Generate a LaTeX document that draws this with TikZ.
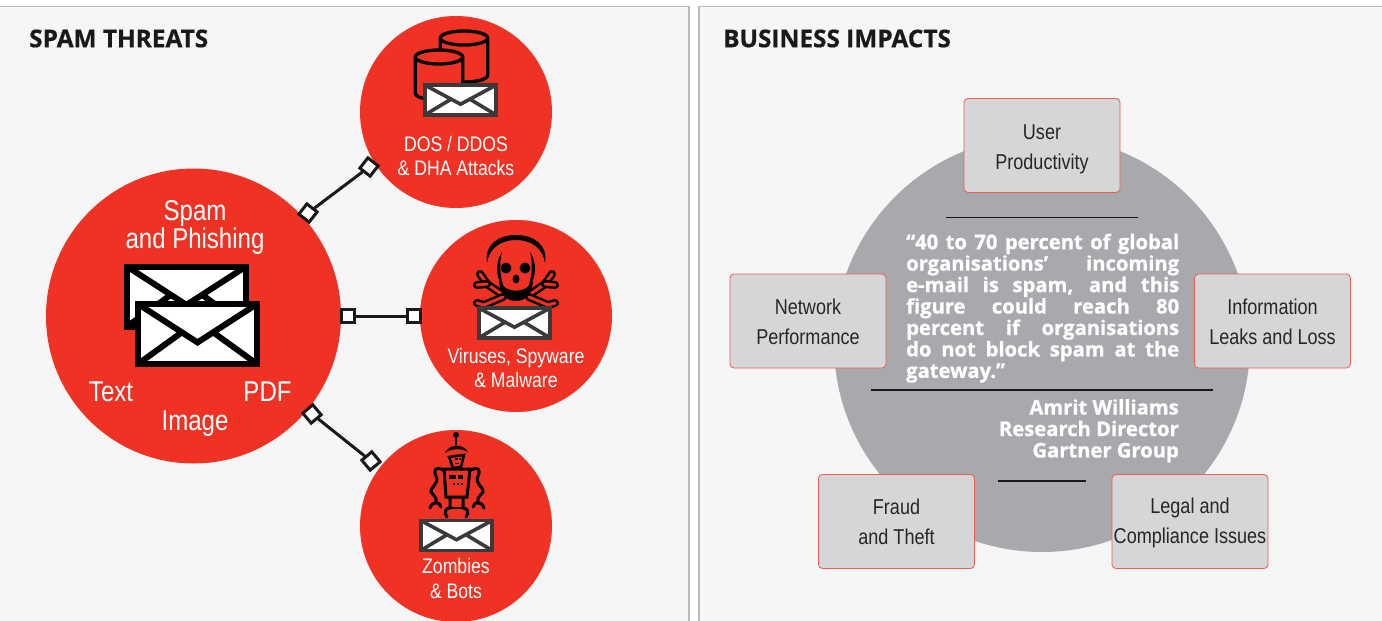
\documentclass[tikz,border=0pt]{standalone}
\usepackage{fontspec}
\setmainfont{Liberation Sans}
\newfontfamily\cond[FakeStretch=0.84]{Liberation Sans}
\newfontfamily\headf[BoldFeatures={FakeBold=0.6}]{Open Sans}
\newfontfamily\quotef[BoldFeatures={FakeBold=1}]{Open Sans}
\definecolor{redc}{HTML}{EF3224}
\definecolor{panelc}{HTML}{F6F6F6}
\definecolor{edgec}{HTML}{BABBBD}
\definecolor{disc}{HTML}{A7A9AC}
\definecolor{boxc}{HTML}{D5D6D8}
\definecolor{envc}{HTML}{3A3A3A}
\tikzset{
  x=1pt,y=-1pt,
  panel/.style={draw=edgec,line width=1.6pt,fill=panelc},
  threat/.style={circle,fill=redc,inner sep=0pt,minimum size=#1},
  lbl/.style={text=white,align=center,font=\cond\fontsize{21}{24.5}\selectfont,inner sep=0pt},
  biglbl/.style={text=white,align=center,font=\cond\fontsize{28.6}{28.5}\selectfont,inner sep=0pt},
  head/.style={anchor=west,inner sep=0pt,font=\headf\bfseries\fontsize{24.4}{28}\selectfont,text=black!90},
  impact/.style={draw=redc!80!white,line width=.8pt,fill=boxc,rounded corners=4pt,minimum width=156pt,minimum height=94pt,inner sep=0pt},
  impactlbl/.style={align=center,inner sep=0pt,text=black!85,font=\cond\fontsize{21.5}{30}\selectfont},
  port/.style={draw=black!90,line width=3pt,fill=white,minimum size=13pt,inner sep=0pt},
  link/.style={draw=black!90,line width=3pt},
  rulel/.style={draw=black!90,line width=1.5pt},
  quote/.style={text=white,font=\quotef\bfseries\fontsize{20.2}{21.45}\selectfont,inner sep=0pt}
}
\newcommand{\envel}[6]{%
  \begin{scope}[shift={(#1,#2)}]
    \filldraw[draw=#6,fill=white,line width=#5pt,line join=miter] (-#3/2,-#4/2) rectangle (#3/2,#4/2);
    \draw[draw=#6,line width=#5pt,line join=miter] (-#3/2,-#4/2) -- (0,#4*0.14) -- (#3/2,-#4/2);
    \draw[draw=#6,line width=#5pt] (-#3/2,#4/2) -- (-#3*0.13,-#4*0.03);
    \draw[draw=#6,line width=#5pt] (#3/2,#4/2) -- (#3*0.13,-#4*0.03);
  \end{scope}}
\newcommand{\drum}[4]{%
  \filldraw[draw=black,fill=redc,line width=3.3pt] (#1-#3,#2) -- (#1-#3,#2+#4) .. controls (#1-#3,#2+#4+9.3) and (#1+#3,#2+#4+9.3) .. (#1+#3,#2+#4) -- (#1+#3,#2);
  \filldraw[draw=black,fill=redc,line width=3.3pt] (#1,#2) ellipse[x radius=#3,y radius=7];}
\newcommand{\bone}[3]{%
  \draw[black,line width=8pt,line cap=round] #1 -- #2 #2 -- #3;
  \draw[redc,line width=3pt,line cap=round] #1 -- #2 #2 -- #3;}
\begin{document}
\begin{tikzpicture}
\useasboundingbox (0,0) rectangle (1382,621);
\fill[white] (0,0) rectangle (1382,621);
\draw[panel] (-5,6.5) rectangle (689,640);
\draw[panel] (699,6.5) rectangle (1390,640);
\node[head] (h1) at (29,38.5) {SPAM THREATS};
\node[head] (h2) at (723,38.5) {BUSINESS IMPACTS};

% -------- left
\node[threat=295pt] (main) at (193.5,316) {};
\node[threat=192pt] (dos) at (456,112) {};
\node[threat=192pt] (vir) at (516,316) {};
\node[threat=192pt] (zom) at (456,526) {};

\node[port,rotate=-38] (p1a) at (308,213) {};
\node[port,rotate=-38] (p1b) at (369,167) {};
\node[port] (p2a) at (348,316) {};
\node[port] (p2b) at (414,316) {};
\node[port,rotate=40] (p3a) at (312,414) {};
\node[port,rotate=40] (p3b) at (371,461) {};
\draw[link] (p1a) -- (p1b);
\draw[link] (p2a) -- (p2b);
\draw[link] (p3a) -- (p3b);

\node[biglbl] (t1) at (195,227.5) {Spam\\and Phishing};
\envel{186.5}{296.5}{119}{60}{6}{black}
\envel{197.5}{334}{119}{60}{6}{black}
\node[biglbl] (t2) at (111,392) {Text};
\node[biglbl] (t3) at (267.5,392) {PDF};
\node[biglbl] (t4) at (195,424) {Image};

% dos icon
\drum{464}{38}{23.7}{37}
\drum{439}{57}{23.7}{36}
\envel{460.5}{100}{71.5}{30}{3.6}{envc}
\node[lbl] (t5) at (456,156) {DOS / DDOS\\\& DHA Attacks};

% skull
\bone{(503,295)}{(487,284)}{(480,274)}
\bone{(487,284)}{(487,284)}{(477,285)}
\bone{(529,295)}{(545,284)}{(552,274)}
\bone{(545,284)}{(545,284)}{(555,285)}
\bone{(503,297)}{(484,305)}{(477,303)}
\bone{(529,297)}{(548,305)}{(555,303)}
\fill[redc] (516,265) ellipse[x radius=23,y radius=26];
\fill[black] (487,263) .. controls (484,245) and (498,235) .. (516,235) .. controls (534,235) and (548,245) .. (545,263)
  .. controls (543,249) and (532,240) .. (516,240) .. controls (500,240) and (489,249) .. (487,263) -- cycle;
\fill[black] (502,252) .. controls (495,262) and (495,278) .. (504,288) .. controls (500,276) and (499,264) .. (502,252) -- cycle;
\fill[black] (530,252) .. controls (537,262) and (537,278) .. (528,288) .. controls (532,276) and (533,264) .. (530,252) -- cycle;
\fill[black] (499,281) .. controls (506,294) and (526,294) .. (533,281) .. controls (532,296) and (524,301) .. (516,301) .. controls (508,301) and (500,296) .. (499,281) -- cycle;
\fill[black] (506,268) circle (5.5);
\fill[black] (525,268) circle (5.5);
\fill[black] (516,279) ellipse[x radius=3.5,y radius=4.5];
\envel{514.5}{323}{71.5}{30}{3.6}{envc}
\node[lbl] (t6) at (516,368) {Viruses, Spyware\\\& Malware};

% robot
\begin{scope}[line cap=round]
  \fill[black] (456,435) circle (3);
  \draw[black,line width=1.5pt] (456,435) -- (456,445);
  \fill[black] (445,453) .. controls (449,444) and (463,443) .. (468,452) .. controls (461,448) and (452,448) .. (445,453) -- cycle;
  \filldraw[draw=black,fill=redc,line width=2.5pt] (449,457) -- (464,455) -- (461,467) -- (453,468) -- cycle;
  \fill[black] (455,458) rectangle (458,460);
  \fill[black] (459,458) rectangle (461,460);
  \fill[black] (455,463) rectangle (459,464);
  \filldraw[draw=black,fill=redc,line width=3pt] (444,469) -- (470,469) -- (467,497) -- (446,497) -- cycle;
  \fill[black] (449,475) rectangle (456,479);
  \fill[black] (458,475) rectangle (463,479);
  \fill[black] (453,483) rectangle (455,485);
  \fill[black] (457,483) rectangle (459,485);
  \fill[black] (461,483) rectangle (463,485);
  \draw[black,line width=3pt] (443,470) .. controls (436,466) and (433,470) .. (436,476) .. controls (440,484) and (429,488) .. (431,492) .. controls (434,496) and (437,497) .. (436,503);
  \draw[black,line width=3pt] (471,470) .. controls (478,466) and (481,470) .. (478,476) .. controls (474,484) and (485,488) .. (483,492) .. controls (480,496) and (477,497) .. (478,503);
  \draw[black,line width=3pt] (430,508) .. controls (432,501) and (440,501) .. (441,507);
  \draw[black,line width=3pt] (473,507) .. controls (474,501) and (482,501) .. (484,508);
  \draw[black,line width=3pt] (447,517) .. controls (443,512) and (446,508) .. (450,508) -- (450,497);
  \draw[black,line width=3pt] (466,517) .. controls (470,512) and (467,508) .. (463,508) -- (463,497);
  \draw[black,line width=1.5pt] (450,508) -- (463,508);
\end{scope}
\envel{456.5}{535.5}{71.5}{30}{3.6}{envc}
\node[lbl] (t7) at (456,578.5) {Zombies\\\& Bots};

% -------- right
\node[circle,fill=disc,inner sep=0pt,minimum size=416pt] (disc) at (1042,344) {};
\node[impact] (b1) at (1042,145.5) {};
\node[impact] (b2) at (1272.5,321) {};
\node[impact] (b3) at (808,321) {};
\node[impact] (b4) at (896.5,521.5) {};
\node[impact] (b5) at (1190,521.5) {};
\node[impactlbl] (l1) at (1042,149) {User\\Productivity};
\node[impactlbl] (l2) at (1272.5,321.5) {Information\\Leaks and Loss};
\node[impactlbl] (l3) at (808,321.5) {Network\\Performance};
\node[impactlbl] (l4) at (896.5,522) {Fraud\\and Theft};
\node[impactlbl] (l5) at (1190,523) {Legal and\\Compliance Issues};

\coordinate (r1a) at (946,217.5); \coordinate (r1b) at (1138,217.5);
\coordinate (r2a) at (871,390); \coordinate (r2b) at (1213,390);
\coordinate (r3a) at (998,481); \coordinate (r3b) at (1086,481);
\draw[rulel] (r1a) -- (r1b);
\draw[rulel] (r2a) -- (r2b);
\draw[rulel] (r3a) -- (r3b);

\node[quote,anchor=north west,align=left] (q) at (906,233.5) {%
\makebox[273pt][s]{“40 to 70 percent of global}\\
\makebox[273pt][s]{organisations’ incoming}\\
\makebox[273pt][s]{e-mail is spam, and this}\\
\makebox[273pt][s]{figure could reach 80}\\
\makebox[273pt][s]{percent if organisations}\\
\makebox[273pt][s]{do not block spam at the}\\
gateway.”};
\node[quote,anchor=north east,align=right] (a) at (1179,399) {Amrit Williams\\Research Director\\Gartner Group};
\end{tikzpicture}
\end{document}
